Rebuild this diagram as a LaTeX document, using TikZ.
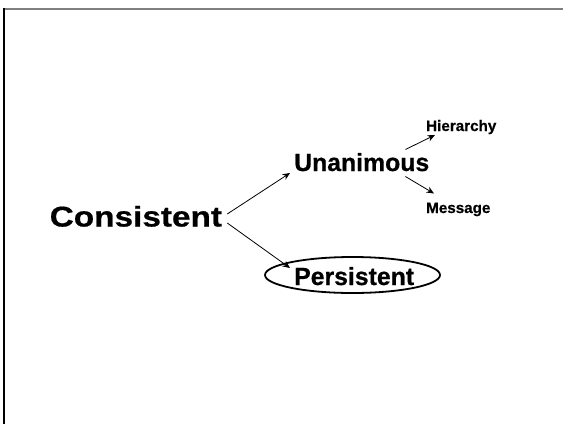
\documentclass[tikz,border=0pt]{standalone}
\usepackage{fontspec}
\setmainfont{Liberation Sans}[BoldFeatures={FakeBold=0.6}]
\usetikzlibrary{arrows.meta,calc}
\begin{document}
\begin{tikzpicture}[x=1pt,y=-1pt,
  word/.style={inner sep=0pt,anchor=base west,font=\bfseries},
  bigword/.style={word,font=\bfseries\fontsize{24.8}{28}\selectfont},
  smallword/.style={word,font=\bfseries\fontsize{15.2}{18}\selectfont},
  link/.style={line width=0.8pt,-{Stealth[length=7.5pt,width=6.5pt,inset=2.5pt]}}]
  \useasboundingbox (0,0) rectangle (563,424);
  % page frame: grey top edge, black left edge
  \draw[line width=2pt,gray] (4,8.5) -- (563,8.5);
  \draw[line width=1.4pt] (4,8) -- (4,424);

  \node[word,font=\bfseries\fontsize{28.5}{32}\selectfont,xscale=1.17] (cons) at (49.5,226.5) {Consistent};
  \node[bigword] (un)   at (294,171) {Unanimous};
  \node[bigword] (pers) at (294,285) {Persistent};
  \node[smallword] (hier) at (426,131) {Hierarchy};
  \node[smallword] (msg)  at (426,213) {Message};

  % ring round the persistent branch
  \draw[line width=1.8pt] ($(pers.base west)+(58.5,-10)$) ellipse (87.5 and 18);

  \draw[link] ($(cons.base east)+(5,-12.5)$) -- ($(un.base west)+(-4,2)$);
  \draw[link] ($(cons.base east)+(5,-3.5)$) -- ($(pers.base west)+(-4,-17)$);
  \draw[link] ($(un.base east)+(-24,-21.5)$) -- ($(hier.base west)+(9,4)$);
  \draw[link] ($(un.base east)+(-24,5.5)$) -- ($(msg.base west)+(8,-19.5)$);
\end{tikzpicture}
\end{document}
